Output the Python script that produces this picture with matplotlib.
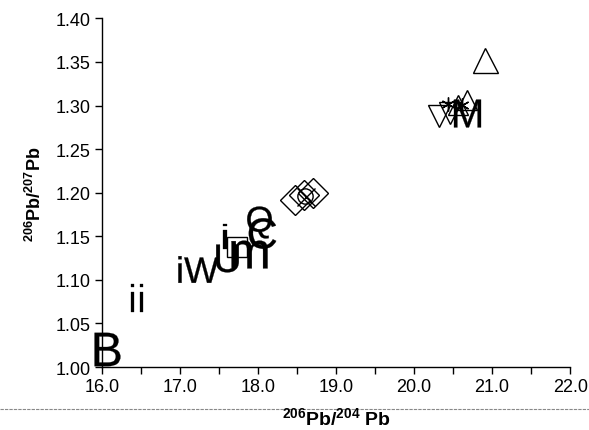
import matplotlib
matplotlib.use("Agg")
import matplotlib.pyplot as plt
from matplotlib.lines import Line2D

plt.rcParams['font.family'] = ['Liberation Sans', 'DejaVu Sans']
plt.rcParams['mathtext.fontset'] = 'custom'
plt.rcParams['mathtext.rm'] = 'Liberation Sans'
plt.rcParams['mathtext.bf'] = 'Liberation Sans:bold'
plt.rcParams['mathtext.it'] = 'Liberation Sans'

# letter-symbol samples (x = 206Pb/204Pb, y = 206Pb/207Pb)
letter_labels = ['B', 'ii', 'iW', 'U', 'i', 'm', 'Q', 'C', 'M']
letter_x = [16.06, 16.45, 17.23, 17.60, 17.58, 17.88, 18.01, 18.05, 20.68]
letter_y = [1.021, 1.079, 1.112, 1.125, 1.150, 1.130, 1.167, 1.154, 1.292]
letter_size = [24, 20, 29, 20, 18, 26, 23, 22, 20]

# open-symbol samples
square_x = [17.73]
square_y = [1.138]
diamond_x = [18.47, 18.59, 18.70]
diamond_y = [1.192, 1.197, 1.200]
circle_x = [18.60]
circle_y = [1.196]
cross_x = [18.62]
cross_y = [1.195]
tri_down_x = [20.32, 20.46]
tri_down_y = [1.288, 1.291]
tri_up_x = [20.56, 20.68, 20.91]
tri_up_y = [1.301, 1.306, 1.352]
star_x = [20.43, 20.62]
star_y = [1.302, 1.301]

x_ticks = [16.0, 17.0, 18.0, 19.0, 20.0, 21.0, 22.0]
y_ticks = [1.00, 1.05, 1.10, 1.15, 1.20, 1.25, 1.30, 1.35, 1.40]

fig, ax = plt.subplots(figsize=(5.89, 4.31), dpi=100)
fig.subplots_adjust(left=0.173, right=0.968, bottom=0.146, top=0.955)

open_kw = dict(linestyle='none', mfc='none', mec='black', mew=1.0, clip_on=False)
ax.plot(square_x, square_y, marker='s', ms=14, **open_kw)
ax.plot(diamond_x, diamond_y, marker='D', ms=15, **open_kw)
ax.plot(circle_x, circle_y, marker='o', ms=11, **open_kw)
ax.plot(cross_x, cross_y, marker='x', ms=13, **open_kw)
ax.plot(tri_down_x, tri_down_y, marker='v', ms=16, **open_kw)
ax.plot(tri_up_x[:2], tri_up_y[:2], marker='^', ms=15, **open_kw)
ax.plot(tri_up_x[2:], tri_up_y[2:], marker='^', ms=18, **open_kw)
ax.plot(star_x, star_y, marker=(6, 2, 0), ms=10, **open_kw)

for lab, x, y, s in zip(letter_labels, letter_x, letter_y, letter_size):
    ax.plot([x], [y], linestyle='none', marker=r'$\mathrm{%s}$' % lab,
            ms=s, mfc='black', mec='black', mew=0.2, clip_on=False, zorder=3)

ax.set_xlim(16.0, 22.0)
ax.set_ylim(1.0, 1.4)
ax.set_xticks(x_ticks)
ax.set_xticklabels(['%.1f' % v for v in x_ticks])
ax.set_xticks([v + 0.5 for v in x_ticks[:-1]], minor=True)
ax.set_yticks(y_ticks)
ax.set_yticklabels(['%.2f' % v for v in y_ticks])

for side in ['top', 'right']:
    ax.spines[side].set_visible(False)
for side in ['left', 'bottom']:
    ax.spines[side].set_linewidth(1.0)
ax.tick_params(which='both', direction='out', length=5, width=1, labelsize=13, pad=3)

ax.set_xlabel(r'$\mathbf{^{206}Pb/^{204}\ Pb}$', fontsize=14, labelpad=8)
ax.set_ylabel(r'$\mathbf{^{206}Pb/^{207}Pb}$', fontsize=13, labelpad=8)

# faint scan line along the bottom of the page
fig.add_artist(Line2D([0, 1], [0.049, 0.049], transform=fig.transFigure,
                      color='#888888', lw=0.8, linestyle=(0, (3, 1)), zorder=0))

fig.savefig('out.png', dpi=100)
